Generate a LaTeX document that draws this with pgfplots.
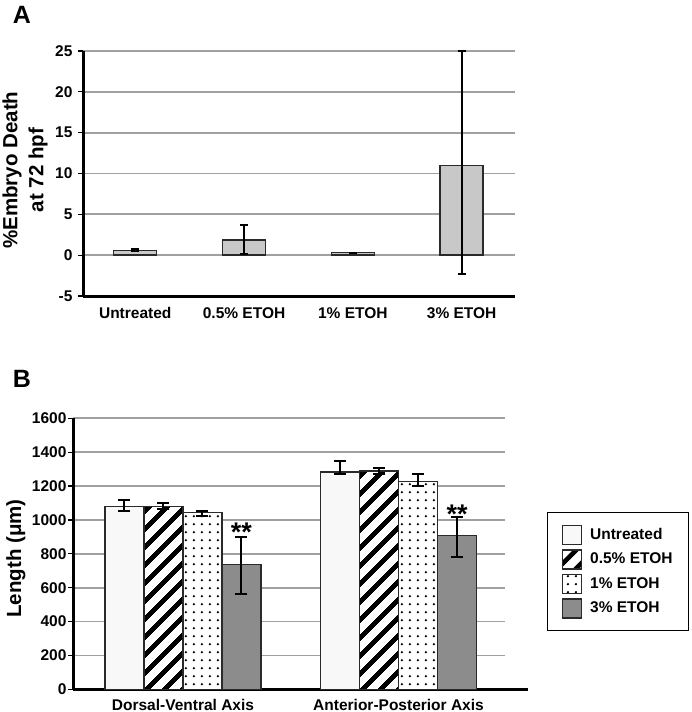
\documentclass[border=0pt]{standalone}
\usepackage{fontspec}
\setmainfont{Liberation Sans}
\usepackage{pgfplots}
\pgfplotsset{compat=1.18}
\usetikzlibrary{patterns.meta}
\definecolor{gridgray}{HTML}{A0A0A0}
\definecolor{barA}{HTML}{C8C8C8}
\definecolor{barEdge}{HTML}{2A2A2A}
\definecolor{barWhite}{HTML}{F8F8F8}
\definecolor{barDark}{HTML}{8C8C8C}
\tikzdeclarepattern{
  name=thickstripes,
  type=uncolored,
  bounding box={(0pt,0pt) and (20pt,13.4pt)},
  tile size={(20pt,13.4pt)},
  tile transformation={rotate=45},
  code={\fill (-1pt,0pt) rectangle (21pt,5.2pt);}
}
\tikzdeclarepattern{
  name=bigdots,
  type=uncolored,
  bounding box={(0pt,0pt) and (8.3pt,8.3pt)},
  tile size={(8.3pt,8.3pt)},
  code={\fill (4.15pt,4.15pt) circle (1.35pt);}
}
\begin{document}
\begin{tikzpicture}
\path[use as bounding box] (0,0) rectangle (692pt,-712pt);
\node[font=\bfseries\fontsize{25}{28}\selectfont, anchor=center] at (22pt,-15pt) {A};
\node[font=\bfseries\fontsize{25}{28}\selectfont, anchor=center] at (22pt,-379pt) {B};
% ---------------- Panel A ----------------
\begin{axis}[
  at={(83pt,-296pt)}, anchor=south west,
  scale only axis, width=432pt, height=245pt,
  xmin=-0.48, xmax=3.49, ymin=-5, ymax=25,
  axis x line*=bottom, axis y line*=left,
  axis line style={line width=3pt, black},
  ytick={-5,0,5,10,15,20,25},
  yticklabels={-5,0,5,10,15,20,25},
  xtick={0,1,2,3},
  xticklabels={Untreated,0.5\% ETOH,1\% ETOH,3\% ETOH},
  xtick style={draw=none},
  ytick style={line width=1.2pt, black},
  tick align=outside, major tick length=5pt,
  ymajorgrids, grid style={gridgray, line width=1.8pt},
  tick label style={font=\bfseries\fontsize{15.5}{18}\selectfont},
  yticklabel style={xshift=-2pt},
  xticklabel style={yshift=-3pt},
  ylabel={\%Embryo Death\\at 72 hpf},
  ylabel style={at={(axis description cs:-0.134,0.514)}, anchor=center, align=center,
    font=\bfseries\fontsize{20.5}{26}\selectfont},
  clip=false,
]
\addplot[ybar, bar width=43pt, fill=barA, draw=barEdge, line width=1.5pt,
  error bars/.cd, y dir=both, y explicit,
  error bar style={line width=2pt, black},
  error mark options={line width=2pt, black, mark size=4pt, rotate=90}]
  coordinates {
    (0,0.6)  += (0,0.1)  -= (0,0.1)
    (1,1.85) += (0,1.8)  -= (0,1.7)
    (2,0.3)  += (0,0.02) -= (0,0.02)
    (3,11)   += (0,14)   -= (0,13.35)
  };
\end{axis}
% ---------------- Panel B ----------------
\begin{axis}[
  at={(73pt,-689.3pt)}, anchor=south west,
  scale only axis, width=432pt, height=271pt,
  xmin=-0.51, xmax=1.494, ymin=0, ymax=1600,
  axis x line*=bottom, axis y line*=left,
  axis line style={line width=3pt, black},
  ytick={0,200,...,1600},
  yticklabels={0,200,400,600,800,1000,1200,1400,1600},
  xtick={0,1},
  xticklabels={Dorsal-Ventral Axis,Anterior-Posterior Axis},
  xtick style={draw=none},
  ytick style={line width=1.2pt, black},
  tick align=outside, major tick length=5pt,
  ymajorgrids, grid style={gridgray, line width=1.8pt},
  tick label style={font=\bfseries\fontsize{15.5}{18}\selectfont},
  yticklabel style={xshift=2pt},
  xticklabel style={inner ysep=0.5pt, yshift=-4pt},
  ylabel={Length (μm)},
  ylabel style={at={(axis description cs:-0.132,0.483)}, anchor=center,
    font=\bfseries\fontsize{20.5}{24}\selectfont},
  ybar=0pt, bar width=39pt,
  clip=false,
  legend cell align=left,
  legend image code/.code={\draw[#1, line width=1.5pt] (0pt,-9.5pt) rectangle (19pt,9.5pt);},
  legend style={at={(1.097,0.655)}, anchor=north west, draw=black, line width=1.5pt,
    font=\bfseries\fontsize{15.5}{18}\selectfont,
    inner xsep=14pt, inner ysep=12pt, row sep=4pt,
    /tikz/every odd column/.append style={column sep=6pt}},
  error bars/y dir=both, error bars/y explicit,
  error bars/error bar style={line width=2pt, black},
  error bars/error mark options={line width=2pt, black, mark size=6pt, rotate=90},
]
\addplot[fill=barWhite, draw=barEdge, line width=1.5pt]
  coordinates {
    (0,1080) += (0,38) -= (0,27)
    (1,1283) += (0,63) -= (0,14)
  };
\addlegendentry{Untreated}
\addplot[fill=white, draw=barEdge, line width=1.5pt,
  postaction={pattern={thickstripes}, pattern color=black}]
  coordinates {
    (0,1080) += (0,18) -= (0,17)
    (1,1289) += (0,19) -= (0,20)
  };
\addlegendentry{0.5\% ETOH}
\addplot[fill=white, draw=barEdge, line width=1.5pt,
  postaction={pattern={bigdots}, pattern color=black}]
  coordinates {
    (0,1043) += (0,10) -= (0,20)
    (1,1226) += (0,45) -= (0,26)
  };
\addlegendentry{1\% ETOH}
\addplot[fill=barDark, draw=barEdge, line width=1.5pt]
  coordinates {
    (0,736) += (0,163) -= (0,173)
    (1,907) += (0,108) -= (0,128)
  };
\addlegendentry{3\% ETOH}
\node[anchor=base, font=\bfseries\fontsize{27}{28}\selectfont, xshift=58.5pt] at (axis cs:0,875) {**};
\node[anchor=base, font=\bfseries\fontsize{27}{28}\selectfont, xshift=58.5pt] at (axis cs:1,976) {**};
\draw[line width=3pt, black] (rel axis cs:1,0) -- ([xshift=23pt]rel axis cs:1,0);
\end{axis}
\end{tikzpicture}
\end{document}
